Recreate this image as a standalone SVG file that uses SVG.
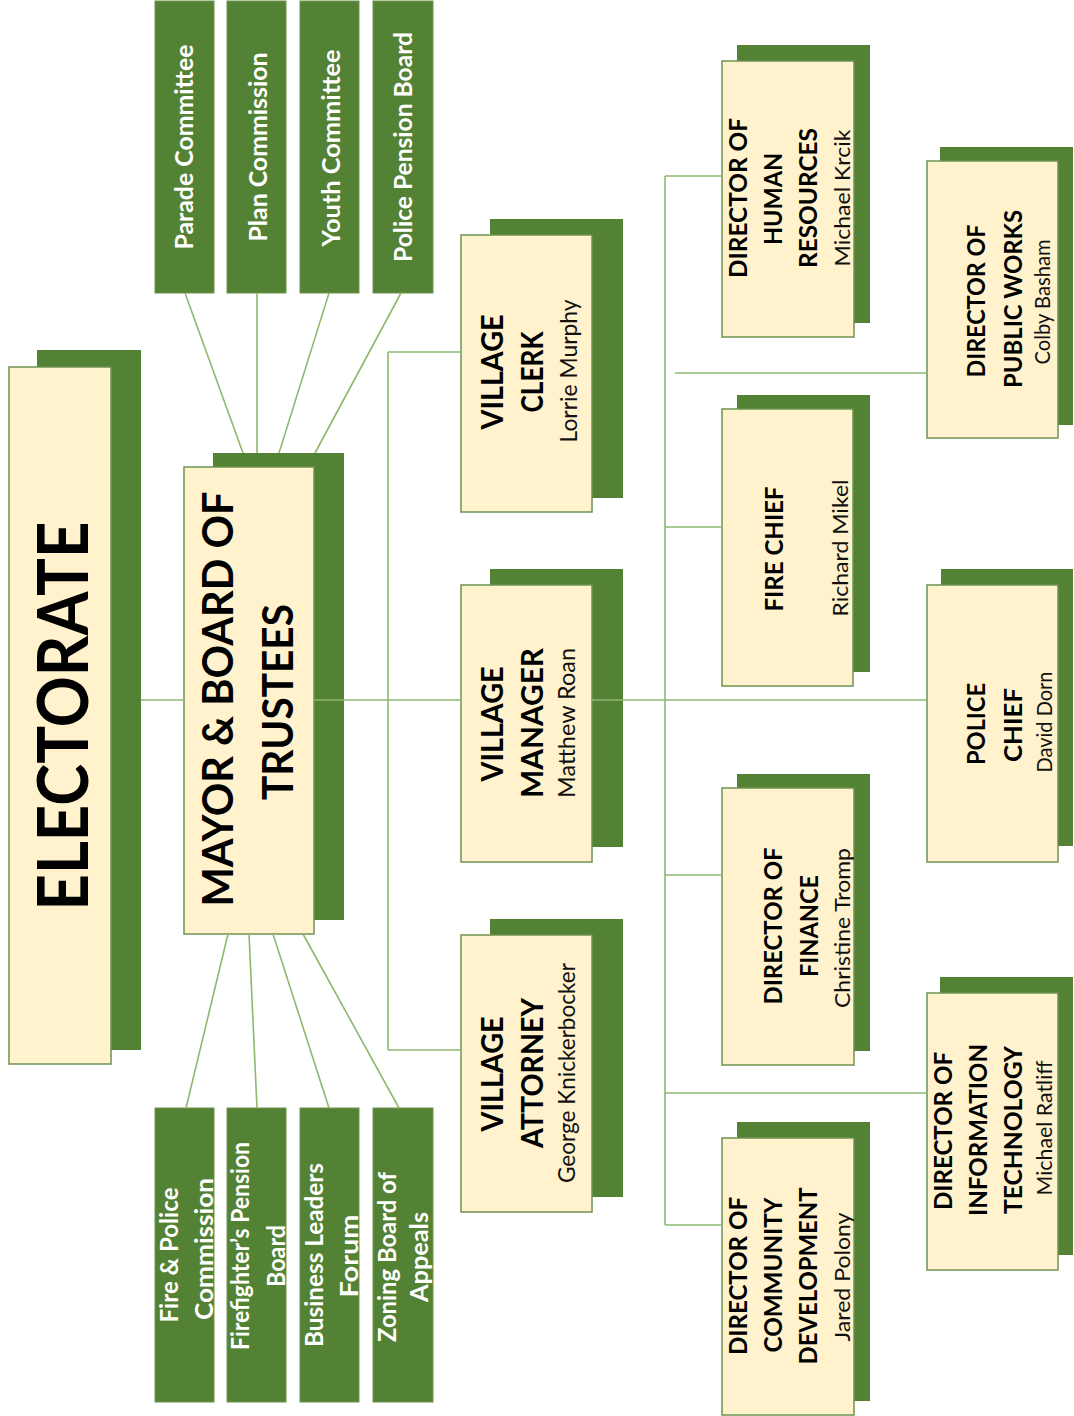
<svg xmlns="http://www.w3.org/2000/svg" width="1074" height="1416" viewBox="0 0 1074 1416">
<style>
.bg{fill:#ffffff}
.sh{fill:#548235}
.fr{fill:#FFF2CC;stroke:#6E9350;stroke-width:1.5}
.cm{fill:#548235;stroke:#6E9350;stroke-width:1}
.ln{stroke:#8DB870;stroke-width:1.6;fill:none}
text{font-family:Lato,"Open Sans","Liberation Sans",sans-serif;text-anchor:middle}
.t{font-weight:bold;fill:#000}
.n{font-weight:normal;fill:#111}
.w{font-weight:bold;fill:#fff;font-size:25px}
</style>
<rect class="bg" x="0" y="0" width="1074" height="1416"/>

<g id="electorate">
<rect class="sh" x="37" y="350" width="104" height="700"/>
<rect class="fr" x="9" y="367" width="102" height="697"/>
<text class="t" font-size="71" transform="translate(88,716) rotate(-90)" textLength="389" lengthAdjust="spacingAndGlyphs">ELECTORATE</text>
</g>

<g id="mayor">
<rect class="sh" x="213" y="453" width="131" height="467"/>
<rect class="fr" x="184" y="467" width="130" height="467"/>
<text class="t" font-size="42" transform="translate(233,699) rotate(-90)" textLength="415" lengthAdjust="spacingAndGlyphs">MAYOR &amp; BOARD OF</text>
<text class="t" font-size="42" transform="translate(293,702) rotate(-90)" textLength="196" lengthAdjust="spacingAndGlyphs">TRUSTEES</text>
</g>

<g id="parade">
<rect class="cm" x="155" y="1" width="59" height="292"/>
<text class="w" transform="translate(193,147) rotate(-90)" textLength="205" lengthAdjust="spacingAndGlyphs">Parade Committee</text>
</g>
<g id="plan">
<rect class="cm" x="227" y="1" width="59" height="292"/>
<text class="w" transform="translate(267,147) rotate(-90)" textLength="189" lengthAdjust="spacingAndGlyphs">Plan Commission</text>
</g>
<g id="youth">
<rect class="cm" x="300" y="1" width="59" height="292"/>
<text class="w" transform="translate(340,148) rotate(-90)" textLength="197" lengthAdjust="spacingAndGlyphs">Youth Committee</text>
</g>
<g id="policepension">
<rect class="cm" x="373" y="1" width="60" height="292"/>
<text class="w" transform="translate(412,147) rotate(-90)" textLength="230" lengthAdjust="spacingAndGlyphs">Police Pension Board</text>
</g>

<g id="firepolice">
<rect class="cm" x="155" y="1108" width="59" height="294"/>
<text class="w" transform="translate(178,1255) rotate(-90)" textLength="135" lengthAdjust="spacingAndGlyphs">Fire &amp; Police</text>
<text class="w" transform="translate(213,1249) rotate(-90)" textLength="142" lengthAdjust="spacingAndGlyphs">Commission</text>
</g>
<g id="firefighters">
<rect class="cm" x="227" y="1108" width="59" height="294"/>
<text class="w" transform="translate(249,1246) rotate(-90)" textLength="208" lengthAdjust="spacingAndGlyphs">Firefighter’s Pension</text>
<text class="w" transform="translate(285,1256) rotate(-90)" textLength="62" lengthAdjust="spacingAndGlyphs">Board</text>
</g>
<g id="business">
<rect class="cm" x="300" y="1108" width="59" height="294"/>
<text class="w" transform="translate(323,1255) rotate(-90)" textLength="184" lengthAdjust="spacingAndGlyphs">Business Leaders</text>
<text class="w" transform="translate(358,1256) rotate(-90)" textLength="83" lengthAdjust="spacingAndGlyphs">Forum</text>
</g>
<g id="zoning">
<rect class="cm" x="373" y="1108" width="60" height="294"/>
<text class="w" transform="translate(396,1257) rotate(-90)" textLength="170" lengthAdjust="spacingAndGlyphs">Zoning Board of</text>
<text class="w" transform="translate(428,1257) rotate(-90)" textLength="90" lengthAdjust="spacingAndGlyphs">Appeals</text>
</g>

<g id="clerk">
<rect class="sh" x="490" y="219" width="133" height="279"/>
<rect class="fr" x="461" y="235" width="131" height="277"/>
<text class="t" font-size="30" transform="translate(503,372) rotate(-90)" textLength="115" lengthAdjust="spacingAndGlyphs">VILLAGE</text>
<text class="t" font-size="30" transform="translate(543,372) rotate(-90)" textLength="81" lengthAdjust="spacingAndGlyphs">CLERK</text>
<text class="n" font-size="23" transform="translate(577,371) rotate(-90)" textLength="143" lengthAdjust="spacingAndGlyphs">Lorrie Murphy</text>
</g>

<g id="manager">
<rect class="sh" x="490" y="569" width="133" height="278"/>
<rect class="fr" x="461" y="585" width="131" height="277"/>
<text class="t" font-size="30" transform="translate(503,724) rotate(-90)" textLength="115" lengthAdjust="spacingAndGlyphs">VILLAGE</text>
<text class="t" font-size="30" transform="translate(543,723) rotate(-90)" textLength="150" lengthAdjust="spacingAndGlyphs">MANAGER</text>
<text class="n" font-size="23" transform="translate(575,723) rotate(-90)" textLength="150" lengthAdjust="spacingAndGlyphs">Matthew Roan</text>
</g>

<g id="attorney">
<rect class="sh" x="490" y="919" width="133" height="278"/>
<rect class="fr" x="461" y="935" width="131" height="277"/>
<text class="t" font-size="30" transform="translate(503,1074) rotate(-90)" textLength="115" lengthAdjust="spacingAndGlyphs">VILLAGE</text>
<text class="t" font-size="30" transform="translate(543,1073) rotate(-90)" textLength="150" lengthAdjust="spacingAndGlyphs">ATTORNEY</text>
<text class="n" font-size="23" transform="translate(575,1073) rotate(-90)" textLength="220" lengthAdjust="spacingAndGlyphs">George Knickerbocker</text>
</g>

<g id="hr">
<rect class="sh" x="737" y="45" width="133" height="278"/>
<rect class="fr" x="722" y="61" width="132" height="276"/>
<text class="t" font-size="24" transform="translate(747,198) rotate(-90)" textLength="160" lengthAdjust="spacingAndGlyphs">DIRECTOR OF</text>
<text class="t" font-size="24" transform="translate(782,199) rotate(-90)" textLength="92" lengthAdjust="spacingAndGlyphs">HUMAN</text>
<text class="t" font-size="24" transform="translate(817,198) rotate(-90)" textLength="140" lengthAdjust="spacingAndGlyphs">RESOURCES</text>
<text class="n" font-size="22" transform="translate(850,198) rotate(-90)" textLength="137" lengthAdjust="spacingAndGlyphs">Michael Krcik</text>
</g>

<g id="fire">
<rect class="sh" x="737" y="395" width="133" height="277"/>
<rect class="fr" x="722" y="409" width="131" height="277"/>
<text class="t" font-size="24" transform="translate(783,549) rotate(-90)" textLength="125" lengthAdjust="spacingAndGlyphs">FIRE CHIEF</text>
<text class="n" font-size="22" transform="translate(848,548) rotate(-90)" textLength="137" lengthAdjust="spacingAndGlyphs">Richard Mikel</text>
</g>

<g id="finance">
<rect class="sh" x="737" y="774" width="133" height="277"/>
<rect class="fr" x="722" y="788" width="132" height="277"/>
<text class="t" font-size="24" transform="translate(782,926) rotate(-90)" textLength="157" lengthAdjust="spacingAndGlyphs">DIRECTOR OF</text>
<text class="t" font-size="24" transform="translate(818,926) rotate(-90)" textLength="102" lengthAdjust="spacingAndGlyphs">FINANCE</text>
<text class="n" font-size="22" transform="translate(850,928) rotate(-90)" textLength="160" lengthAdjust="spacingAndGlyphs">Christine Tromp</text>
</g>

<g id="commdev">
<rect class="sh" x="737" y="1122" width="133" height="279"/>
<rect class="fr" x="722" y="1138" width="132" height="277"/>
<text class="t" font-size="24" transform="translate(747,1276) rotate(-90)" textLength="158" lengthAdjust="spacingAndGlyphs">DIRECTOR OF</text>
<text class="t" font-size="24" transform="translate(782,1275) rotate(-90)" textLength="155" lengthAdjust="spacingAndGlyphs">COMMUNITY</text>
<text class="t" font-size="24" transform="translate(817,1276) rotate(-90)" textLength="177" lengthAdjust="spacingAndGlyphs">DEVELOPMENT</text>
<text class="n" font-size="22" transform="translate(850,1277) rotate(-90)" textLength="129" lengthAdjust="spacingAndGlyphs">Jared Polony</text>
</g>

<g id="publicworks">
<rect class="sh" x="940" y="147" width="133" height="278"/>
<rect class="fr" x="927" y="161" width="131" height="277"/>
<text class="t" font-size="24" transform="translate(985,301) rotate(-90)" textLength="153" lengthAdjust="spacingAndGlyphs">DIRECTOR OF</text>
<text class="t" font-size="24" transform="translate(1022,299) rotate(-90)" textLength="178" lengthAdjust="spacingAndGlyphs">PUBLIC WORKS</text>
<text class="n" font-size="22" transform="translate(1050,302) rotate(-90)" textLength="125" lengthAdjust="spacingAndGlyphs">Colby Basham</text>
</g>

<g id="police">
<rect class="sh" x="941" y="569" width="132" height="277"/>
<rect class="fr" x="927" y="585" width="131" height="277"/>
<text class="t" font-size="24" transform="translate(985,724) rotate(-90)" textLength="82" lengthAdjust="spacingAndGlyphs">POLICE</text>
<text class="t" font-size="24" transform="translate(1022,725) rotate(-90)" textLength="74" lengthAdjust="spacingAndGlyphs">CHIEF</text>
<text class="n" font-size="22" transform="translate(1052,722) rotate(-90)" textLength="101" lengthAdjust="spacingAndGlyphs">David Dorn</text>
</g>

<g id="it">
<rect class="sh" x="940" y="977" width="133" height="278"/>
<rect class="fr" x="927" y="993" width="131" height="277"/>
<text class="t" font-size="24" transform="translate(952,1131) rotate(-90)" textLength="158" lengthAdjust="spacingAndGlyphs">DIRECTOR OF</text>
<text class="t" font-size="24" transform="translate(987,1130) rotate(-90)" textLength="172" lengthAdjust="spacingAndGlyphs">INFORMATION</text>
<text class="t" font-size="24" transform="translate(1022,1130) rotate(-90)" textLength="168" lengthAdjust="spacingAndGlyphs">TECHNOLOGY</text>
<text class="n" font-size="22" transform="translate(1052,1128) rotate(-90)" textLength="135" lengthAdjust="spacingAndGlyphs">Michael Ratliff</text>
</g>

<g id="connectors" class="ln">
<line x1="141" y1="700" x2="184" y2="700"/>
<line x1="314" y1="700" x2="461" y2="700"/>
<line x1="592" y1="700" x2="927" y2="700"/>
<line x1="388" y1="352" x2="388" y2="1050"/>
<line x1="388" y1="352" x2="461" y2="352"/>
<line x1="388" y1="1050" x2="461" y2="1050"/>
<line x1="665" y1="176" x2="665" y2="1225"/>
<line x1="665" y1="176" x2="722" y2="176"/>
<line x1="665" y1="527" x2="722" y2="527"/>
<line x1="665" y1="875" x2="722" y2="875"/>
<line x1="665" y1="1225" x2="722" y2="1225"/>
<line x1="675" y1="373" x2="927" y2="373"/>
<line x1="665" y1="1093" x2="927" y2="1093"/>
<line x1="185" y1="293" x2="243" y2="453"/>
<line x1="257" y1="293" x2="257" y2="453"/>
<line x1="329" y1="293" x2="279" y2="453"/>
<line x1="401" y1="293" x2="315" y2="453"/>
<line x1="228" y1="934" x2="186" y2="1108"/>
<line x1="249" y1="934" x2="257" y2="1108"/>
<line x1="273" y1="934" x2="329" y2="1108"/>
<line x1="303" y1="934" x2="399" y2="1108"/>
</g>
</svg>
